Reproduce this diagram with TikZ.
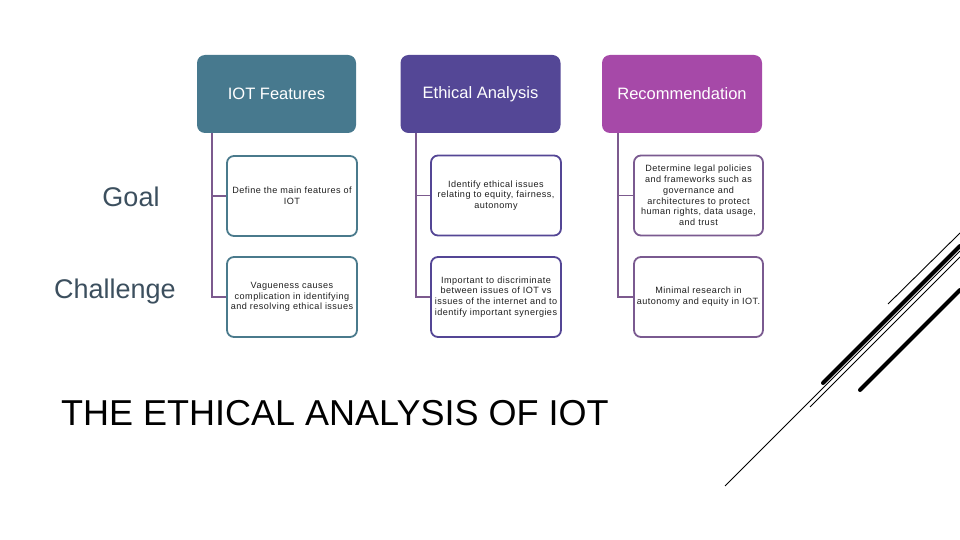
\documentclass[tikz,border=0pt]{standalone}
\usepackage{fontspec}
\setmainfont{Liberation Sans}
\newfontfamily\spacedfont[LetterSpace=5]{Liberation Sans}
\definecolor{cteal}{RGB}{71,121,142}
\definecolor{cindigo}{RGB}{84,71,150}
\definecolor{cmagenta}{RGB}{166,73,168}
\definecolor{bteal}{RGB}{74,122,140}
\definecolor{bindigo}{RGB}{84,70,149}
\definecolor{bpurple}{RGB}{122,90,144}
\definecolor{connc}{RGB}{124,90,142}
\definecolor{rowc}{RGB}{60,79,94}
\definecolor{txtc}{RGB}{30,30,30}
\tikzset{
  hdr/.style={rounded corners=8pt, minimum width=159pt, minimum height=78pt, inner sep=0pt, text=white, font=\fontsize{16.5}{19}\selectfont},
  child/.style={rounded corners=7pt, draw, line width=1.8pt, fill=white, minimum width=130pt, minimum height=80pt, inner sep=2pt, align=center, text=txtc, font=\spacedfont\fontsize{9.1}{10.8}\selectfont},
  conn/.style={draw=connc, line width=1.8pt},
  rowlab/.style={text=rowc, font=\fontsize{27}{31}\selectfont, inner sep=0pt},
  deco/.style={black, line width=0.9pt},
  decothick/.style={black, line width=4pt, line cap=round}
}
\begin{document}
\begin{tikzpicture}[x=1pt,y=-1pt]
\useasboundingbox (0,0) rectangle (960,540);
% headers
\node[hdr, fill=cteal] (h1) at (276.5,94) {IOT Features};
\node[hdr, fill=cindigo, minimum width=160pt] (h2) at (480.5,94) {Ethical Analysis};
\node[hdr, fill=cmagenta, minimum width=160pt] (h3) at (682,94) {Recommendation};
% children
\node[child, draw=bteal] (c11) at (292,196) {Define the main features of\\IOT};
\node[child, draw=bteal] (c12) at (292,297) {Vagueness causes\\complication in identifying\\and resolving ethical issues};
\node[child, draw=bindigo] (c21) at (496,195.5) {Identify ethical issues\\relating to equity, fairness,\\autonomy};
\node[child, draw=bindigo] (c22) at (496,297) {Important to discriminate\\between issues of IOT vs\\issues of the internet and to\\identify important synergies};
\node[child, draw=bpurple, minimum width=129pt] (c31) at (698.5,195.5) {Determine legal policies\\and frameworks such as\\governance and\\architectures to protect\\human rights, data usage,\\and trust};
\node[child, draw=bpurple, minimum width=129pt] (c32) at (698.5,297) {Minimal research in\\autonomy and equity in IOT.};
% connectors
\draw[conn] (h1.south west) ++(15,0) coordinate (v1) |- (c12.west);
\draw[conn] (v1) |- (c11.west);
\draw[conn] (h2.south west) ++(15.5,0) coordinate (v2) |- (c22.west);
\draw[conn] (v2) |- (c21.west);
\draw[conn] (h3.south west) ++(16,0) coordinate (v3) |- (c32.west);
\draw[conn] (v3) |- (c31.west);
% row labels
\node[rowlab] (goal) at (131,197) {Goal};
\node[rowlab] (chal) at (115,292) {Challenge};
% title
\node[anchor=base west, inner sep=0pt, font=\fontsize{36}{40}\selectfont] (title) at (61,425) {THE ETHICAL ANALYSIS OF IOT};
% decorative lines
\draw[deco] (888,304) -- (960,233);
\draw[decothick] (823,383) -- (960,246);
\draw[deco] (810,407) -- (960,257);
\draw[deco] (725,486) -- (960,251);
\draw[decothick] (860,390) -- (960,290);
\end{tikzpicture}
\end{document}
